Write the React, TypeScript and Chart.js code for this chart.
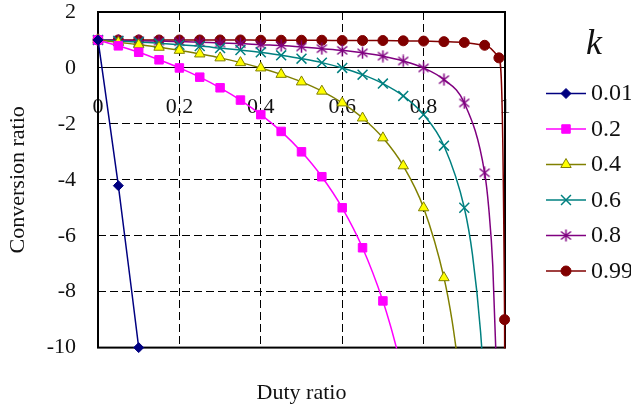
import React, { useEffect, useRef } from 'react';
import { Chart, registerables } from 'chart.js';
import { drawPoint } from 'chart.js/helpers';

Chart.register(...registerables);

// Duty ratio at which markers are plotted
const duty = [0, 0.05, 0.1, 0.15, 0.2, 0.25, 0.3, 0.35, 0.4, 0.45, 0.5, 0.55, 0.6, 0.65, 0.7, 0.75, 0.8, 0.85, 0.9, 0.95];

// Conversion ratio, one array per k (values read at the duty points above)
const k001 = [1, -4.21, -10];
const k02 = [1, 0.79, 0.56, 0.29, 0, -0.33, -0.71, -1.15, -1.67, -2.27, -3, -3.89, -5, -6.43, -8.33];
const k04 = [1, 0.92, 0.83, 0.74, 0.63, 0.5, 0.36, 0.19, 0, -0.23, -0.5, -0.83, -1.25, -1.79, -2.5, -3.5, -5, -7.5];
const k06 = [1, 0.96, 0.93, 0.88, 0.83, 0.78, 0.71, 0.64, 0.56, 0.45, 0.33, 0.19, 0, -0.24, -0.56, -1, -1.67, -2.78, -5];
const k08 = [1, 0.99, 0.97, 0.96, 0.94, 0.92, 0.89, 0.87, 0.83, 0.8, 0.75, 0.69, 0.63, 0.54, 0.42, 0.25, 0, -0.42, -1.25, -3.75];
const k099 = [1, 1, 1, 1, 1, 1, 1, 1, 0.99, 0.99, 0.99, 0.99, 0.98, 0.98, 0.98, 0.97, 0.96, 0.94, 0.91, 0.81];

// extra marked points of k = 0.99 close to D = 1
const k099ExtraDuty = [0.985, 0.999];
const k099Extra = [0.36, -9];

// unmarked points where the curves run off the bottom of the plot
const k02TailDuty = [0.72, 0.74];
const k02Tail = [-9.29, -10.38];
const k04TailDuty = [0.87, 0.89];
const k04Tail = [-9.04, -11.14];
const k06TailDuty = [0.92, 0.94, 0.95];
const k06Tail = [-6.67, -9.44, -11.67];
const k08TailDuty = [0.96, 0.97, 0.98];
const k08Tail = [-5, -7.08, -11.25];
const k099TailDuty = [1.0];
const k099Tail = [-16];

const kLabels = ['0.01', '0.2', '0.4', '0.6', '0.8', '0.99'];

const FONT = "'Liberation Serif', 'Times New Roman', serif";
const TEXT = '#111';

type Pt = { x: number; y: number; m: number };

function build(vals: number[], exX: number[], exY: number[], tX: number[], tY: number[]): Pt[] {
  return [
    ...vals.map((y, i) => ({ x: duty[i], y, m: 1 })),
    ...exX.map((x, i) => ({ x, y: exY[i], m: 1 })),
    ...tX.map((x, i) => ({ x, y: tY[i], m: 0 })),
  ];
}

function makeStar(color: string): HTMLCanvasElement {
  const c = document.createElement('canvas');
  c.width = 13;
  c.height = 13;
  const g = c.getContext('2d')!;
  g.strokeStyle = color;
  g.lineWidth = 1.5;
  g.beginPath();
  g.moveTo(6.5, 0.5);
  g.lineTo(6.5, 12.5);
  g.moveTo(1.5, 2.5);
  g.lineTo(11.5, 10.5);
  g.moveTo(11.5, 2.5);
  g.lineTo(1.5, 10.5);
  g.stroke();
  return c;
}

const framePlugin = {
  id: 'frame',
  beforeDatasetsDraw(chart: any) {
    const { ctx, chartArea: a } = chart;
    ctx.save();
    ctx.strokeStyle = '#000';
    ctx.lineWidth = 2;
    ctx.strokeRect(a.left, a.top, a.right - a.left, a.bottom - a.top);
    ctx.restore();
  },
};

const legendPlugin = {
  id: 'sideLegend',
  afterDraw(chart: any) {
    const { ctx } = chart;
    ctx.save();
    ctx.fillStyle = TEXT;
    ctx.font = `italic 36px ${FONT}`;
    ctx.textAlign = 'left';
    ctx.textBaseline = 'alphabetic';
    ctx.fillText('k', 586, 54);
    chart.data.datasets.forEach((ds: any, i: number) => {
      const y = 93.5 + i * 35.5;
      ctx.strokeStyle = ds.borderColor;
      ctx.lineWidth = 1.5;
      ctx.setLineDash([]);
      ctx.beginPath();
      ctx.moveTo(546, y);
      ctx.lineTo(586, y);
      ctx.stroke();
      ctx.fillStyle = ds.pointBackgroundColor;
      ctx.strokeStyle = ds.pointBorderColor;
      ctx.lineWidth = ds.pointBorderWidth;
      drawPoint(ctx, { pointStyle: ds.pointStyle, radius: ds.legendRadius, rotation: 0, borderWidth: ds.pointBorderWidth } as any, 566, y);
      ctx.fillStyle = TEXT;
      ctx.font = `24px ${FONT}`;
      ctx.textBaseline = 'middle';
      ctx.fillText(ds.label, 591, y + 0.5);
    });
    ctx.restore();
  },
};

export default function App() {
  const ref = useRef<HTMLCanvasElement>(null);

  useEffect(() => {
    if (!ref.current) return;
    const star = makeStar('#800080');
    const clipStd = { left: 8, top: 8, right: 8, bottom: 1 };
    const styles = [
      { color: '#000080', fill: '#000080', style: 'rectRot', r: 5, bw: 1, clip: { left: 8, top: 8, right: 8, bottom: 8 } },
      { color: '#FF00FF', fill: '#FF00FF', style: 'rect', r: 6, bw: 1, clip: clipStd },
      { color: '#808000', fill: '#FFFF00', style: 'triangle', r: 6, bw: 1, clip: clipStd },
      { color: '#008080', fill: '#008080', style: 'crossRot', r: 7, bw: 1.5, clip: clipStd },
      { color: '#800080', fill: '#800080', style: star, r: 6, bw: 1, clip: clipStd },
      { color: '#800000', fill: '#800000', style: 'circle', r: 5, bw: 1, clip: clipStd },
    ];
    const series = [
      build(k001, [], [], [], []),
      build(k02, [], [], k02TailDuty, k02Tail),
      build(k04, [], [], k04TailDuty, k04Tail),
      build(k06, [], [], k06TailDuty, k06Tail),
      build(k08, [], [], k08TailDuty, k08Tail),
      build(k099, k099ExtraDuty, k099Extra, k099TailDuty, k099Tail),
    ];
    const datasets = series.map((data, i) => {
      const s = styles[i];
      return {
        label: kLabels[i],
        data,
        borderColor: s.color,
        backgroundColor: s.fill,
        borderWidth: 1.5,
        pointStyle: s.style,
        pointBackgroundColor: s.fill,
        pointBorderColor: s.color,
        pointBorderWidth: s.bw,
        pointRadius: (c: any) => (c.raw && c.raw.m ? s.r : 0),
        pointHoverRadius: (c: any) => (c.raw && c.raw.m ? s.r : 0),
        legendRadius: s.r,
        cubicInterpolationMode: 'monotone',
        clip: s.clip,
      };
    });

    const chart = new Chart(ref.current, {
      type: 'line',
      data: { datasets: datasets as any },
      options: {
        animation: false,
        responsive: false,
        devicePixelRatio: 1,
        events: [],
        layout: { padding: { left: 0, top: 12, right: 126, bottom: 0 } },
        plugins: {
          legend: { display: false },
          tooltip: { enabled: false },
          title: {
            display: true,
            text: 'Duty ratio',
            position: 'bottom',
            fullSize: false,
            color: TEXT,
            font: { family: FONT, size: 22, weight: 'normal', lineHeight: 1.2 },
            padding: { top: 32, bottom: 4 },
          },
        },
        scales: {
          x: {
            type: 'linear',
            min: 0,
            max: 1,
            position: { y: 0 } as any,
            ticks: {
              stepSize: 0.2,
              padding: 28,
              color: TEXT,
              maxRotation: 0,
              autoSkip: false,
              font: { family: FONT, size: 22, lineHeight: 1 },
              callback: (v: any) => String(Number(Number(v).toFixed(2))),
            },
            grid: {
              color: (c: any) => (c.tick && (c.tick.value === 0 || c.tick.value === 1) ? 'rgba(0,0,0,0)' : '#000'),
              lineWidth: 1,
              drawTicks: false,
            },
            border: { display: true, color: '#000', width: 1, dash: [8, 4] },
            afterFit: (scale: any) => {
              scale.height = 0;
              scale.paddingLeft = 0;
              scale.paddingRight = 0;
            },
          },
          y: {
            type: 'linear',
            min: -10,
            max: 2,
            ticks: {
              stepSize: 2,
              padding: 22,
              color: TEXT,
              font: { family: FONT, size: 22, lineHeight: 1 },
            },
            grid: {
              color: (c: any) =>
                c.tick && (c.tick.value === 0 || c.tick.value === 2 || c.tick.value === -10) ? 'rgba(0,0,0,0)' : '#000',
              lineWidth: 1,
              drawTicks: false,
            },
            border: { display: false, dash: [8, 4] },
            title: {
              display: true,
              text: 'Conversion ratio',
              color: TEXT,
              font: { family: FONT, size: 22, lineHeight: 1.2 },
              padding: { top: 5, bottom: 0 },
            },
            afterFit: (scale: any) => {
              scale.width = 98;
              scale.paddingTop = 0;
              scale.paddingBottom = 0;
            },
          },
        },
      } as any,
      plugins: [framePlugin, legendPlugin],
    });
    return () => chart.destroy();
  }, []);

  return (
    <div style={{ position: 'fixed', left: 0, top: 0, width: 631, height: 410, background: '#fff' }}>
      <canvas ref={ref} width={631} height={410} style={{ display: 'block', width: 631, height: 410 }} />
    </div>
  );
}
